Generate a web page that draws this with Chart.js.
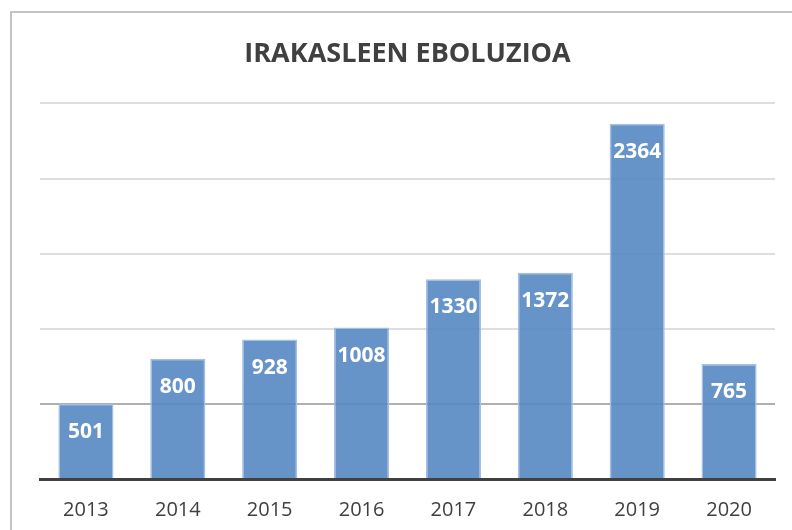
<html>
  <head>
    <title>Irakasleen eboluzioa</title>
    <script src="https://cdn.jsdelivr.net/npm/chart.js@4.4.1/dist/chart.umd.min.js"></script>
    <style>
      body   { margin:0; background:#fff; overflow:hidden; }
      .frame { position:absolute; left:10px; top:11px; width:800px; height:540px; border:2px solid #c4c4c4; }
      .wrap  { position:absolute; left:0; top:0; width:792px; height:530px; }
    </style>
  </head>
  <body>
    <div class="frame"></div>
    <div class="wrap"><canvas id="myChart" width="792" height="530"></canvas></div>
    <script>
      var years = ['2013', '2014', '2015', '2016', '2017', '2018', '2019', '2020'];
      var teachers = [501, 800, 928, 1008, 1330, 1372, 2364, 765];

      // white numbers inside the top of each bar
      var barLabels = {
        id: 'barLabels',
        afterDatasetsDraw: function(chart) {
          var ctx = chart.ctx;
          var meta = chart.getDatasetMeta(0);
          ctx.save();
          ctx.fillStyle = '#ffffff';
          ctx.font = 'bold 21px "Open Sans"';
          ctx.textAlign = 'center';
          ctx.textBaseline = 'middle';
          meta.data.forEach(function(bar, i) {
            ctx.fillText(teachers[i], bar.x, bar.y + 28);
          });
          ctx.restore();
        }
      };

      var ctx = document.getElementById('myChart').getContext('2d');
      var myChart = new Chart(ctx, {
        type: 'bar',
        data: {
          labels: years,
          datasets: [{
            data: teachers,
            backgroundColor: 'rgba(86,136,194,0.9)',
            borderColor: '#a3bfe2',
            borderWidth: 1.5,
            categoryPercentage: 1,
            barPercentage: 0.6
          }]
        },
        options: {
          responsive: false,
          animation: false,
          devicePixelRatio: 1,
          layout: { padding: { left: 40, right: 17, top: 0, bottom: 0 } },
          plugins: {
            legend: { display: false },
            tooltip: { enabled: false },
            title: {
              display: true,
              text: 'IRAKASLEEN EBOLUZIOA',
              color: '#404040',
              font: { family: '"Open Sans"', size: 27, weight: 'bold' },
              padding: { top: 38, bottom: 33 }
            }
          },
          scales: {
            x: {
              grid: { display: false },
              border: { color: '#404040', width: 3 },
              ticks: { color: '#404040', padding: 11, font: { family: '"Open Sans"', size: 20 } },
              afterFit: function(s) { s.height = 51; }
            },
            y: {
              min: 0,
              max: 2500,
              ticks: { display: false, stepSize: 500 },
              border: { display: false },
              grid: {
                drawTicks: false,
                lineWidth: 2,
                color: function(c) { return c.tick && c.tick.value === 500 ? '#b0b0b0' : '#dedede'; }
              }
            }
          }
        },
        plugins: [barLabels]
      });
    </script>
  </body>
</html>
